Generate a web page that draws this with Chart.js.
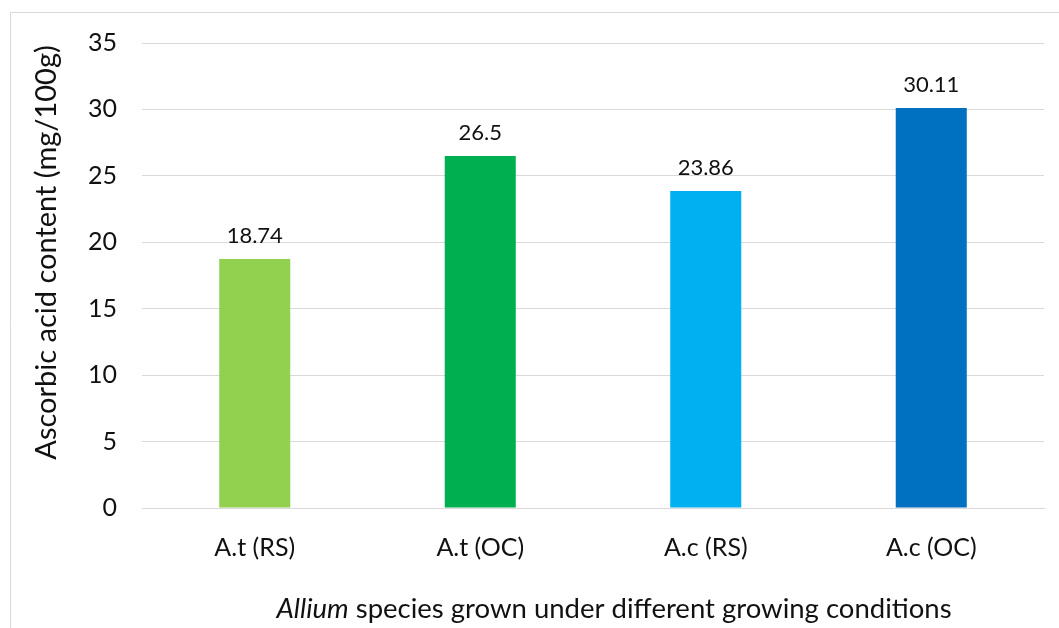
<!DOCTYPE html>
<html>
<head>
<meta charset="utf-8">
<script src="https://cdn.jsdelivr.net/npm/chart.js@4"></script>
<style>
  html, body { margin: 0; padding: 0; background: #fff; }
  #wrap { width: 1059px; height: 628px; position: relative; }
</style>
</head>
<body>
<div id="wrap"><canvas id="c" width="1059" height="628"></canvas></div>
<script>
const categories = ['A.t (RS)', 'A.t (OC)', 'A.c (RS)', 'A.c (OC)'];
const ascorbicValues = [18.74, 26.5, 23.86, 30.11];
const valueLabels = ['18.74', '26.5', '23.86', '30.11'];
const barColors = ['#92D050', '#00B050', '#00B0F0', '#0070C0'];
const yTickValues = [0, 5, 10, 15, 20, 25, 30, 35];

const FONT = 'Lato, "Open Sans", sans-serif';
const TEXT = '#111';

// Frame lines, value labels and the axis titles (the x title mixes italic and upright text)
const decorations = {
  id: 'decorations',
  beforeDraw(chart) {
    const ctx = chart.ctx;
    ctx.save();
    ctx.strokeStyle = '#d9d9d9';
    ctx.lineWidth = 1;
    ctx.beginPath();
    ctx.moveTo(10.5, 628);
    ctx.lineTo(10.5, 12.5);
    ctx.lineTo(1059, 12.5);
    ctx.stroke();
    ctx.restore();
  },
  afterDatasetsDraw(chart) {
    const ctx = chart.ctx;
    const meta = chart.getDatasetMeta(0);
    ctx.save();
    ctx.fillStyle = TEXT;
    ctx.font = '22px ' + FONT;
    ctx.textAlign = 'center';
    ctx.textBaseline = 'bottom';
    meta.data.forEach((bar, i) => {
      ctx.fillText(valueLabels[i], bar.x, bar.y - 12);
    });

    // y axis title
    const area = chart.chartArea;
    ctx.font = '29px ' + FONT;
    ctx.textBaseline = 'middle';
    ctx.translate(47, (area.top + area.bottom) / 2 - 23);
    ctx.rotate(-Math.PI / 2);
    ctx.fillText('Ascorbic acid content (mg/100g)', 0, 0);
    ctx.restore();

    // x axis title
    ctx.save();
    ctx.fillStyle = TEXT;
    ctx.textBaseline = 'middle';
    const part1 = 'Allium';
    const part2 = ' species grown under different growing conditions';
    ctx.font = 'italic 27.5px ' + FONT;
    const w1 = ctx.measureText(part1).width;
    ctx.font = '27.5px ' + FONT;
    const w2 = ctx.measureText(part2).width;
    const cx = 614;
    let x = cx - (w1 + w2) / 2;
    ctx.textAlign = 'left';
    ctx.font = 'italic 27.5px ' + FONT;
    ctx.fillText(part1, x, 609);
    ctx.font = '27.5px ' + FONT;
    ctx.fillText(part2, x + w1, 609);
    ctx.restore();
  }
};

new Chart(document.getElementById('c'), {
  type: 'bar',
  data: {
    labels: categories,
    datasets: [{
      data: ascorbicValues,
      backgroundColor: barColors,
      borderWidth: 0,
      barPercentage: 1,
      categoryPercentage: 0.315
    }]
  },
  options: {
    responsive: false,
    animation: false,
    events: [],
    layout: { padding: { left: 0, right: 15, top: 43, bottom: 0 } },
    plugins: {
      legend: { display: false },
      tooltip: { enabled: false },
      title: { display: false }
    },
    scales: {
      x: {
        grid: { display: false, drawTicks: false },
        border: { display: true, color: '#d9d9d9', width: 1 },
        ticks: { color: TEXT, font: { family: FONT, size: 25 }, padding: 25 },
        afterFit: s => { s.height = 120; }
      },
      y: {
        min: 0,
        max: 35,
        afterBuildTicks: s => { s.ticks = yTickValues.map(v => ({ value: v })); },
        grid: { color: '#d9d9d9', lineWidth: 1, drawTicks: false },
        border: { display: false },
        ticks: { color: TEXT, font: { family: FONT, size: 25 }, padding: 25 },
        afterFit: s => { s.width = 142; }
      }
    }
  },
  plugins: [decorations]
});
</script>
</body>
</html>
